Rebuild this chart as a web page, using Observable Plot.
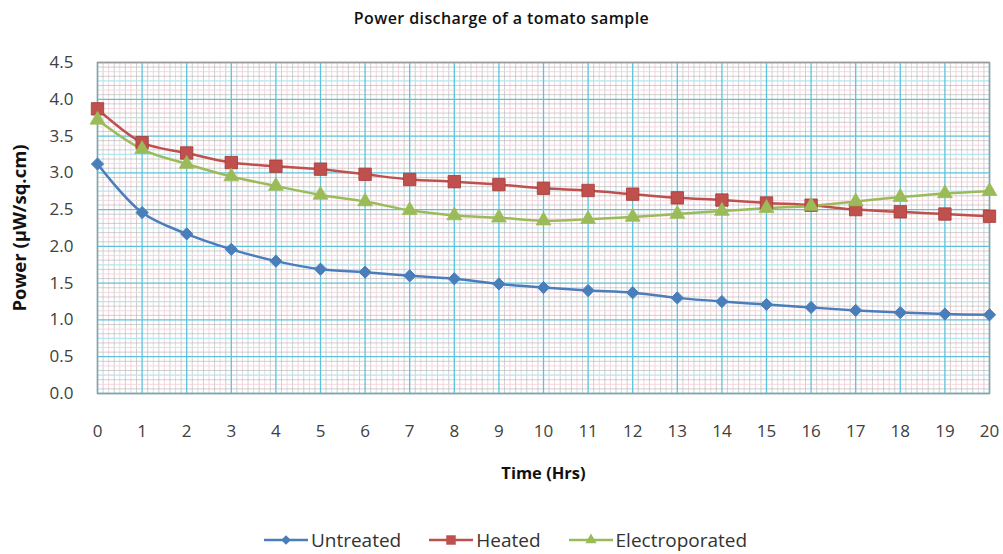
<!DOCTYPE html>
<html>
<head>
<meta charset="utf-8">
<script src="https://cdn.jsdelivr.net/npm/d3@7"></script>
<script src="https://cdn.jsdelivr.net/npm/@observablehq/plot@0.6"></script>
<style>
  html, body { margin: 0; padding: 0; background: #fff; }
  body { width: 1003px; height: 554px; overflow: hidden; font-family: "Open Sans", "Liberation Sans", sans-serif; }
  #title { height: 36px; line-height: 36px; text-align: center; font-family: "Open Sans", "Liberation Sans", sans-serif; font-weight: 600; font-size: 16px; letter-spacing: 0.4px; color: #111; }
  #legend { height: 28px; display: flex; justify-content: center; align-items: center; gap: 26px; font-size: 19px; color: #333; padding-left: 6px; }
  #legend .item { display: flex; align-items: center; gap: 1px; }
</style>
</head>
<body>
<div id="title">Power discharge of a tomato sample</div>
<div id="chart"></div>
<div id="legend"></div>
<script>
const hours = d3.range(0, 21);
const untreated = [3.12, 2.46, 2.17, 1.96, 1.80, 1.69, 1.65, 1.60, 1.56, 1.49, 1.44, 1.40, 1.37, 1.30, 1.25, 1.21, 1.17, 1.13, 1.10, 1.08, 1.07];
const heated = [3.87, 3.41, 3.27, 3.14, 3.09, 3.05, 2.98, 2.91, 2.88, 2.84, 2.79, 2.76, 2.71, 2.66, 2.63, 2.59, 2.56, 2.50, 2.47, 2.44, 2.41];
const electroporated = [3.72, 3.32, 3.12, 2.95, 2.82, 2.70, 2.61, 2.49, 2.42, 2.39, 2.35, 2.37, 2.40, 2.44, 2.48, 2.52, 2.55, 2.61, 2.67, 2.72, 2.75];
const seriesNames = ["Untreated", "Heated", "Electroporated"];
const seriesColors = ["#4a7ebb", "#c0504d", "#9bbb59"];
const xTicks = d3.range(0, 21);
const yTicks = [0, 0.5, 1, 1.5, 2, 2.5, 3, 3.5, 4, 4.5];

const rows = [];
[untreated, heated, electroporated].forEach((vals, i) => {
  vals.forEach((v, j) => rows.push({series: seriesNames[i], t: hours[j], v}));
});
const bySeries = name => rows.filter(d => d.series === name);

// graph-paper grid positions (derived from the axis ticks)
const isMult = (d, k) => Math.abs(d * k - Math.round(d * k)) <= 1e-6;
const xMinor = d3.range(0, 20.001, 0.125).filter(d => !isMult(d, 1));
const xMinorGray = xMinor.filter(d => !isMult(d, 4));
const xMinorPink = xMinor.filter(d => isMult(d, 4));
const yMinor = d3.range(0, 4.5001, 0.0625).filter(d => !isMult(d, 2));
const yMinorGray = yMinor.filter(d => !isMult(d, 8));
const yMinorPink = yMinor.filter(d => isMult(d, 8) && !isMult(d, 4));
const yMinorCyan = yMinor.filter(d => isMult(d, 4));

const font = "'Open Sans', 'Liberation Sans', sans-serif";

const chart = Plot.plot({
  width: 1003,
  height: 490,
  marginLeft: 97,
  marginRight: 14,
  marginTop: 26,
  marginBottom: 133,
  style: {fontFamily: font, background: "#fff", color: "#404040"},
  x: {domain: [0, 20], label: null},
  y: {domain: [0, 4.5], label: null},
  marks: [
    Plot.ruleX(xMinorGray, {stroke: "#b0b0b0", strokeWidth: 1, strokeOpacity: 0.6}),
    Plot.ruleX(xMinorPink, {stroke: "#f4d6de", strokeWidth: 1}),
    Plot.ruleY(yMinorGray, {stroke: "#b0b0b0", strokeWidth: 1, strokeOpacity: 0.6}),
    Plot.ruleY(yMinorPink, {stroke: "#f4d6de", strokeWidth: 1}),
    Plot.ruleY(yMinorCyan, {stroke: "#b3e6f0", strokeWidth: 1.2}),
    Plot.ruleX(xTicks, {stroke: "#5cc2dc", strokeWidth: 1.3}),
    Plot.ruleY(yTicks, {stroke: "#5cc2dc", strokeWidth: 1.3}),
    Plot.frame({stroke: "#9a9a9a", strokeWidth: 1.5}),
    Plot.axisY({ticks: yTicks, tickFormat: d3.format(".1f"), tickSize: 0, tickPadding: 24, fontSize: 17, label: null}),
    Plot.axisX({ticks: xTicks, tickFormat: d3.format("d"), tickSize: 0, tickPadding: 31, fontSize: 17, label: null}),
    Plot.text(["Time (Hrs)"], {frameAnchor: "bottom", dy: 85, fontSize: 16.5, fontWeight: "bold", fill: "#111", fontFamily: font}),
    Plot.text(["Power (µW/sq.cm)"], {frameAnchor: "left", textAnchor: "middle", dx: -77, rotate: -90, fontSize: 18.5, fontWeight: "bold", fill: "#111", fontFamily: font}),
    Plot.line(rows, {x: "t", y: "v", z: "series", stroke: "series", strokeWidth: 2.5, curve: "catmull-rom"}),
    Plot.dot(bySeries("Untreated"), {x: "t", y: "v", symbol: "diamond2", r: 5.5, fill: seriesColors[0], stroke: seriesColors[0], strokeWidth: 1}),
    Plot.dot(bySeries("Heated"), {x: "t", y: "v", symbol: "square", r: 7, fill: seriesColors[1], stroke: "#a33a37", strokeWidth: 0.8}),
    Plot.dot(bySeries("Electroporated"), {x: "t", y: "v", symbol: "triangle", r: 5.5, fill: seriesColors[2], stroke: seriesColors[2], strokeWidth: 0.8})
  ],
  color: {domain: seriesNames, range: seriesColors}
});
document.getElementById("chart").appendChild(chart);

// legend
const legend = document.getElementById("legend");
const symbolPaths = {
  Untreated: d3.symbol(d3.symbolDiamond2, 60)(),
  Heated: d3.symbol(d3.symbolSquare, 90)(),
  Electroporated: d3.symbol(d3.symbolTriangle, 55)()
};
seriesNames.forEach((name, i) => {
  const item = document.createElement("div");
  item.className = "item";
  const svg = d3.create("svg").attr("width", 48).attr("height", 16);
  svg.append("line").attr("x1", 2).attr("x2", 46).attr("y1", 8).attr("y2", 8).attr("stroke", seriesColors[i]).attr("stroke-width", 2.5);
  svg.append("path").attr("d", symbolPaths[name]).attr("transform", "translate(24,8)").attr("fill", seriesColors[i]);
  item.appendChild(svg.node());
  const span = document.createElement("span");
  span.textContent = name;
  item.appendChild(span);
  legend.appendChild(item);
});
</script>
</body>
</html>
